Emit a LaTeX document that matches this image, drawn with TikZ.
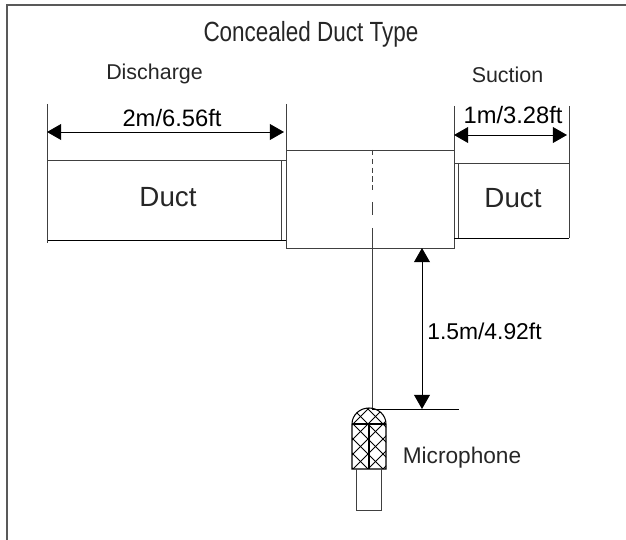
\documentclass[tikz,border=0pt]{standalone}
\usepackage{fontspec}
\setmainfont{Liberation Sans}
\usetikzlibrary{arrows.meta}
\tikzset{
  label/.style={inner sep=0pt, text=black!85, font=\fontsize{12.2}{13}\selectfont},
  dimtext/.style={inner sep=0pt, font=\fontsize{13.5}{14}\selectfont},
  ducttext/.style={inner sep=0pt, text=black!85, font=\fontsize{15.8}{17}\selectfont},
  dimline/.style={{Triangle[length=8pt,width=9pt]}-{Triangle[length=8pt,width=9pt]}, line width=0.5pt},
  thin line/.style={line width=0.5pt, draw=black!75},
}
\begin{document}
\begin{tikzpicture}[x=0.02cm,y=-0.02cm]
    \useasboundingbox (0,0) rectangle (626,540);
    % frame
    \coordinate (frametl) at (7,5);
    \coordinate (frametr) at (626,5);
    \coordinate (framebl) at (7,540);
    \draw[line width=0.8pt,draw=black!65] (framebl) -- (frametl) -- (frametr);
    % title and labels
    \node[inner sep=0pt, text=black!85, font=\fontsize{15.8}{17}\selectfont, xscale=0.81, transform shape] (title) at (311,34) {Concealed Duct Type};
    \node[label] (discharge) at (154.5,74) {Discharge};
    \node[label] (suction) at (507.5,75) {Suction};
    \node[label, font=\fontsize{12.9}{14}\selectfont] (microphone) at (462,458) {Microphone};
    \node[dimtext] (dimleft) at (172,118) {2m/6.56ft};
    \node[dimtext] (dimright) at (513,115) {1m/3.28ft};
    \node[dimtext, font=\fontsize{13}{14}\selectfont] (dimdown) at (484.5,331) {1.5m/4.92ft};
    \node[ducttext] (ductleft) at (168,197) {Duct};
    \node[ducttext] (ductright) at (513,198) {Duct};
    % unit
    \coordinate (unittl) at (286,150);
    \coordinate (unittr) at (454,150);
    \coordinate (unitbr) at (454,248);
    \coordinate (unitbl) at (286,248);
    \draw[thin line] (unittl) -- (unittr) -- (unitbr) -- (unitbl) -- cycle;
    % ducts
    \coordinate (ltl) at (47,160.5);
    \coordinate (lbl) at (47,240);
    \coordinate (ltr) at (286,160.5);
    \coordinate (lbr) at (286,240);
    \coordinate (lit) at (281,160.5);
    \coordinate (lib) at (281,240);
    \draw[thin line] (ltl) -- (ltr);
    \draw[line width=0.5pt] (lbl) -- (lbr);
    \draw[thin line] (lit) -- (lib);
    \coordinate (rtl) at (454,163);
    \coordinate (rtr) at (569,163);
    \coordinate (rbl) at (454,238);
    \coordinate (rbr) at (569,238);
    \coordinate (rit) at (458,163);
    \coordinate (rib) at (458,238);
    \draw[thin line] (rtl) -- (rtr) -- (rbr);
    \draw[line width=0.5pt] (rbl) -- (rbr);
    \draw[thin line] (rit) -- (rib);
    % extension lines
    \coordinate (el1) at (47,104);
    \coordinate (el2) at (47,243);
    \coordinate (el3) at (286,104);
    \coordinate (er1) at (454,106);
    \coordinate (er2) at (569,106);
    \draw[thin line] (el1) -- (el2);
    \draw[thin line] (el3) -- (unittl);
    \draw[thin line] (er1) -- (unittr);
    \draw[thin line] (er2) -- (rtr);
    % dimensions
    \coordinate (al) at (47,132);
    \coordinate (ar) at (284,132);
    \draw[dimline] (al) -- (ar);
    \coordinate (bl) at (454,135);
    \coordinate (br) at (567,135);
    \draw[dimline] (bl) -- (br);
    \coordinate (ct) at (422,248);
    \coordinate (cb) at (422,409);
    \draw[dimline] (ct) -- (cb);
    % center line and level line
    \coordinate (c1) at (372,150);
    \coordinate (c2) at (372,190);
    \coordinate (c3) at (372,202);
    \coordinate (c4) at (372,215);
    \coordinate (c5) at (372,228);
    \coordinate (c6) at (372,408);
    \coordinate (lev) at (459,409);
    \coordinate (levs) at (372,409);
    \draw[thin line,densely dashed] (c1) -- (c2);
    \draw[thin line] (c3) -- (c4);
    \draw[thin line] (c5) -- (c6);
    \draw[line width=0.5pt] (levs) -- (lev);
    % microphone
    \begin{scope}
        \clip (352,469) -- (352,424) arc (180:360:17 and 16) -- (386,469) -- cycle;
        \foreach \d in {-6,...,6} {
            \draw[line width=0.55pt] (368+\d*15-60,409-60) -- ++(120,120);
            \draw[line width=0.55pt] (368+\d*15+60,409-60) -- ++(-120,120);
        }
    \end{scope}
    \draw[line width=0.6pt] (352,469) -- (352,424) arc (180:360:17 and 16) -- (386,469) -- cycle;
    \coordinate (mt) at (352,424);
    \coordinate (mr) at (386,424);
    \draw[line width=0.6pt] (mt) -- (mr);
    \coordinate (mi) at (369,424);
    \coordinate (mj) at (369,469);
    \draw[line width=0.6pt] (mi) -- (mj);
    \coordinate (s1) at (356,469);
    \coordinate (s2) at (356,510);
    \coordinate (s3) at (381,510);
    \coordinate (s4) at (381,469);
    \draw[thin line] (s1) -- (s2) -- (s3) -- (s4);
\end{tikzpicture}
\end{document}
